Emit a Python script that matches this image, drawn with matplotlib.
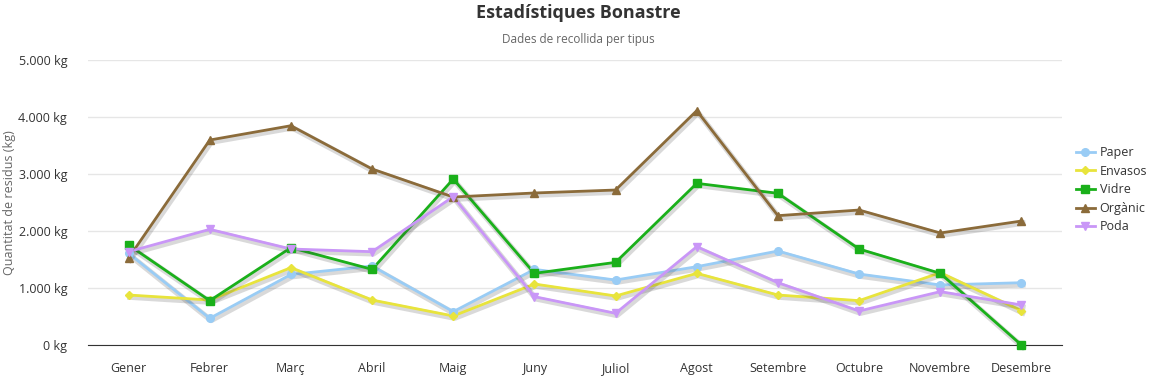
import matplotlib
matplotlib.use("Agg")
import matplotlib.pyplot as plt
import matplotlib.patheffects as pe
from matplotlib.lines import Line2D
from matplotlib.ticker import FuncFormatter

plt.rcParams['font.family'] = ['Open Sans', 'DejaVu Sans']

months = ['Gener', 'Febrer', 'Març', 'Abril', 'Maig', 'Juny', 'Juliol',
          'Agost', 'Setembre', 'Octubre', 'Novembre', 'Desembre']

paper = [1608, 468, 1237, 1386, 585, 1327, 1140, 1374, 1649, 1245, 1053, 1093]
envasos = [877, 789, 1357, 789, 509, 1070, 860, 1257, 877, 778, 1269, 602]
vidre = [1754, 778, 1708, 1327, 2912, 1257, 1450, 2836, 2661, 1684, 1257, 0]
organic = [1526, 3596, 3847, 3088, 2596, 2667, 2719, 4111, 2269, 2368, 1965, 2175]
poda = [1637, 2029, 1684, 1637, 2602, 848, 556, 1725, 1093, 596, 936, 702]

series = [
    ('Paper', paper, '#99ccf5', 'o', 5.5),
    ('Envasos', envasos, '#e8e43c', 'D', 4.0),
    ('Vidre', vidre, '#1ab01a', 's', 5.5),
    ('Orgànic', organic, '#8b6b3a', '^', 5.5),
    ('Poda', poda, '#c996f7', 'v', 5.5),
]

fig = plt.figure(figsize=(11.57, 3.77), dpi=100)
ax = fig.add_axes([88 / 1157, 1 - 345 / 377, (1062 - 88) / 1157, (345 - 60) / 377])

x = list(range(len(months)))
shadow = [pe.SimpleLineShadow(offset=(1, -1.5), shadow_color='#444444', alpha=0.2, linewidth=4),
          pe.Normal()]
handles = []
for name, vals, color, marker, ms in series:
    ax.plot(x, vals, color=color, linewidth=2, path_effects=shadow,
            clip_on=False, zorder=3)
    ax.plot(x, vals, linestyle='none', marker=marker, markersize=ms, color=color,
            markeredgecolor=color, clip_on=False, zorder=4)
    handles.append(Line2D([], [], color=color, linewidth=2, marker=marker,
                          markersize=ms, markeredgecolor=color, label=name))

ax.set_xlim(-0.5, len(months) - 0.5)
ax.set_ylim(0, 5000)
ax.set_yticks(range(0, 5001, 1000))
ax.yaxis.set_major_formatter(FuncFormatter(lambda v, p: f"{int(v):,} kg".replace(',', '.')))
ax.set_xticks(x)
ax.set_xticklabels(months)
ax.grid(axis='y', color='#e6e6e6', linewidth=1)
ax.set_axisbelow(True)
for s in ['top', 'right', 'left']:
    ax.spines[s].set_visible(False)
ax.spines['bottom'].set_color('#333333')
ax.tick_params(axis='both', length=0, labelsize=9, colors='#333333')
ax.tick_params(axis='y', pad=15)
ax.tick_params(axis='x', pad=12)
ax.set_ylabel('Quantitat de residus (kg)', fontsize=9, color='#666666')
ax.yaxis.label.set_horizontalalignment('center')
ax.yaxis.label.set_verticalalignment('center')
ax.yaxis.set_label_coords(-78 / 974, 0.5)

fig.text(0.5, 1 - 13 / 377, 'Estadístiques Bonastre', ha='center', va='center',
         fontsize=13, fontweight='bold', color='#333333')
fig.text(0.5, 1 - 39 / 377, 'Dades de recollida per tipus', ha='center', va='center',
         fontsize=8.5, color='#666666')

leg = fig.legend(handles=handles, loc='upper left', bbox_to_anchor=(1076 / 1157, 1 - 146 / 377),
                 frameon=False, fontsize=9, handlelength=1.5, handletextpad=0.4,
                 labelspacing=0.45, borderpad=0, borderaxespad=0)
for t in leg.get_texts():
    t.set_color('#333333')

fig.savefig('out.png', dpi=100)
